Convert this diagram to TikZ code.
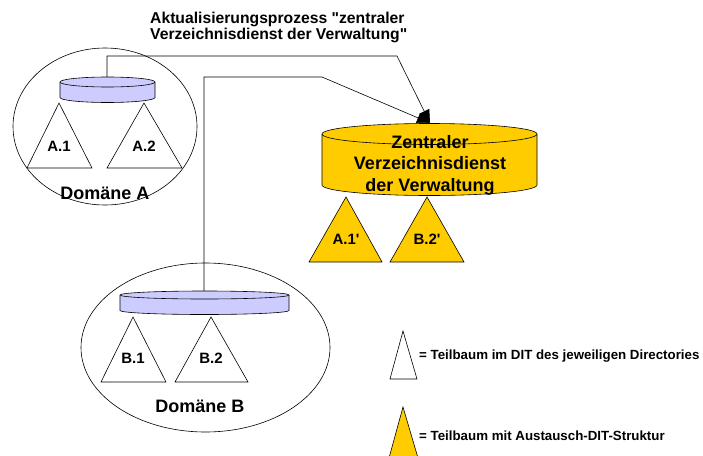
\documentclass[tikz,border=0pt]{standalone}
\usepackage{fontspec}
\newfontfamily\arial{Liberation Sans}
\usetikzlibrary{arrows.meta}
\definecolor{lav}{HTML}{CCCCFF}
\definecolor{gold}{HTML}{FFCC00}
\tikzset{
  dom/.style={draw=black, line width=0.6pt},
  conn/.style={draw=black, line width=0.6pt, -{Triangle[length=13pt,width=11pt]}},
  tri/.style={draw=black, line width=0.6pt, fill=white},
  gtri/.style={draw=black, line width=0.6pt, fill=gold},
  lbl/.style={font=\arial\fontsize{15}{17}\selectfont\bfseries, inner sep=0pt},
  big/.style={font=\arial\fontsize{18}{21.5}\selectfont\bfseries, inner sep=0pt, align=center},
  leg/.style={font=\arial\fontsize{13.3}{15}\selectfont\bfseries, inner sep=0pt, anchor=west},
  domlbl/.style={font=\arial\fontsize{18}{20}\selectfont\bfseries, inner sep=0pt},
}
\newcommand{\cylfig}[6]{% x1,x2,topc,botc,ry,color
  \pgfmathsetmacro{\rxx}{(#2-#1)/2}
  \fill[#6] (#1,#3) -- (#1,#4) arc[start angle=180,end angle=360,x radius=\rxx pt,y radius=#5pt] -- (#2,#3) arc[start angle=0,end angle=180,x radius=\rxx pt,y radius=#5pt] -- cycle;
  \draw[line width=0.6pt] (#1,#3) -- (#1,#4) arc[start angle=180,end angle=360,x radius=\rxx pt,y radius=#5pt] -- (#2,#3);
  \draw[line width=0.6pt] (#1,#3) arc[start angle=180,end angle=540,x radius=\rxx pt,y radius=#5pt];
}
\begin{document}
\begin{tikzpicture}[x=1pt,y=-1pt]
\useasboundingbox (0,0) rectangle (703,455);
% title
\node[font=\arial\fontsize{15.7}{16}\selectfont\bfseries, inner sep=0pt, anchor=north west, align=left] (title) at (150,12)
  {Aktualisierungsprozess "zentraler\\Verzeichnisdienst der Verwaltung"};
% domain ellipses
\draw[dom] (105,126.5) ellipse[x radius=92pt, y radius=78.5pt];
\draw[dom] (205.5,347.5) ellipse[x radius=124.5pt, y radius=84.5pt];
% connection points
\coordinate (cylA) at (107,77);
\coordinate (cylB) at (204,291);
\coordinate (zent) at (430,123);
\coordinate (kA1) at (107,56);
\coordinate (kA2) at (397,56);
\coordinate (kB1) at (204,77);
\coordinate (kB2) at (322,77);
\draw[conn] (cylA) -- (kA1) -- (kA2) -- (zent);
\draw[conn] (cylB) -- (kB1) -- (kB2) -- (zent);
% cylinders
\cylfig{60}{155}{82}{97.5}{5}{lav}
\cylfig{120}{289}{295}{310.5}{4}{lav}
\cylfig{322}{537}{134}{185}{10.5}{gold}
\node[big] (zvd) at (430,165) {Zentraler\\Verzeichnisdienst\\der Verwaltung};
% domain A triangles
\draw[tri] (59,103) -- (92,168) -- (27,168) -- cycle;
\draw[tri] (144,103) -- (182,168) -- (107,168) -- cycle;
\node[lbl] (a1) at (59,146) {A.1};
\node[lbl] (a2) at (144,146) {A.2};
\node[domlbl] (domA) at (105,193) {Domäne A};
% domain B triangles
\draw[tri] (133,317) -- (166,382) -- (101,382) -- cycle;
\draw[tri] (211,317) -- (248,382) -- (175,382) -- cycle;
\node[lbl] (b1) at (133,358) {B.1};
\node[lbl] (b2) at (211,358) {B.2};
\node[domlbl] (domB) at (200,406) {Domäne B};
% gold triangles
\draw[gtri] (346,197) -- (382,262) -- (309,262) -- cycle;
\draw[gtri] (427,197) -- (464,262) -- (390,262) -- cycle;
\node[lbl] (a1p) at (346,239) {A.1'};
\node[lbl] (b2p) at (427,239) {B.2'};
% legend
\draw[tri] (403,331) -- (417,379) -- (390,379) -- cycle;
\node[leg] (leg1) at (419,356) {= Teilbaum im DIT des jeweiligen Directories};
\draw[gtri] (403,407) -- (418,458) -- (389,458) -- cycle;
\node[leg] (leg2) at (419,436) {= Teilbaum mit Austausch-DIT-Struktur};
\end{tikzpicture}
\end{document}
